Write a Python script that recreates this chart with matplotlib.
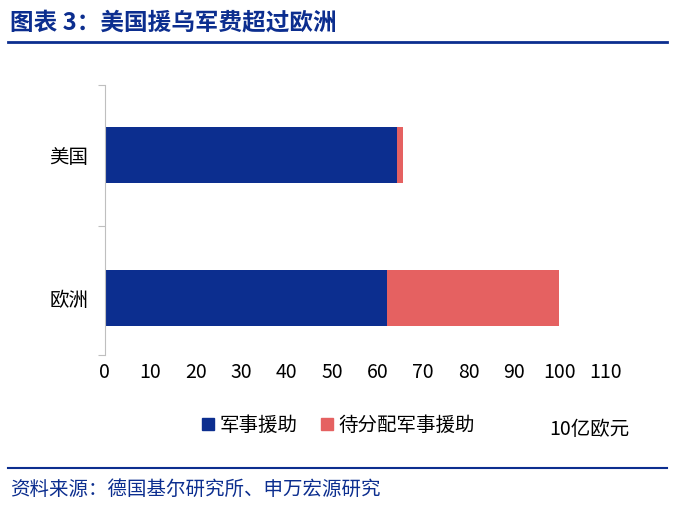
import matplotlib
matplotlib.use("Agg")
import matplotlib.pyplot as plt
from matplotlib.patches import Patch

plt.rcParams['font.family'] = 'Noto Sans CJK SC'

categories = ["欧洲", "美国"]
military = [62.0, 64.2]
pending = [37.8, 1.4]
xticks = list(range(0, 111, 10))

navy = '#0c2e8f'
red = '#e56161'

fig = plt.figure(figsize=(6.77, 5.11), dpi=100)
ax = fig.add_axes([0.155, 0.305, 0.739, 0.529])
ypos = [0, 1]
ax.barh(ypos, military, height=0.39, color=navy)
ax.barh(ypos, pending, left=military, height=0.39, color=red)
ax.set_xlim(0, 110)
ax.set_ylim(-0.4, 1.49)
ax.set_xticks(xticks)
ax.set_xticklabels([str(t) for t in xticks], fontsize=14)
ax.set_yticks([-0.4, 0.5, 1.49], minor=False)
ax.set_yticklabels([])
ax.set_yticks(ypos, minor=True)
ax.set_yticklabels(categories, minor=True, fontsize=14)
ax.tick_params(axis='y', which='major', length=5, color='#bfbfbf', direction='out')
ax.tick_params(axis='y', which='minor', length=0, pad=12)
ax.tick_params(axis='x', length=0, pad=5)
for s in ['top', 'right', 'bottom']:
    ax.spines[s].set_visible(False)
ax.spines['left'].set_color('#bfbfbf')

fig.text(0.015, 0.955, "图表 3：美国援乌军费超过欧洲", fontsize=17, fontweight='bold',
         color=navy, va='center')
fig.add_artist(plt.Line2D([0.012, 0.985], [0.918, 0.918], color=navy, lw=2))
fig.add_artist(plt.Line2D([0.012, 0.985], [0.085, 0.085], color=navy, lw=1.5))
fig.text(0.015, 0.043, "资料来源：德国基尔研究所、申万宏源研究", fontsize=14, color=navy, va='center')

handles = [Patch(color=navy), Patch(color=red)]
fig.legend(handles, ["军事援助", "待分配军事援助"], loc='center', bbox_to_anchor=(0.5, 0.167),
           ncol=2, frameon=False, fontsize=14, handlelength=0.6, handleheight=0.6,
           columnspacing=1.2, handletextpad=0.3)
fig.text(0.87, 0.16, "10亿欧元", fontsize=14, ha='center', va='center')

fig.savefig("out.png", dpi=100)
